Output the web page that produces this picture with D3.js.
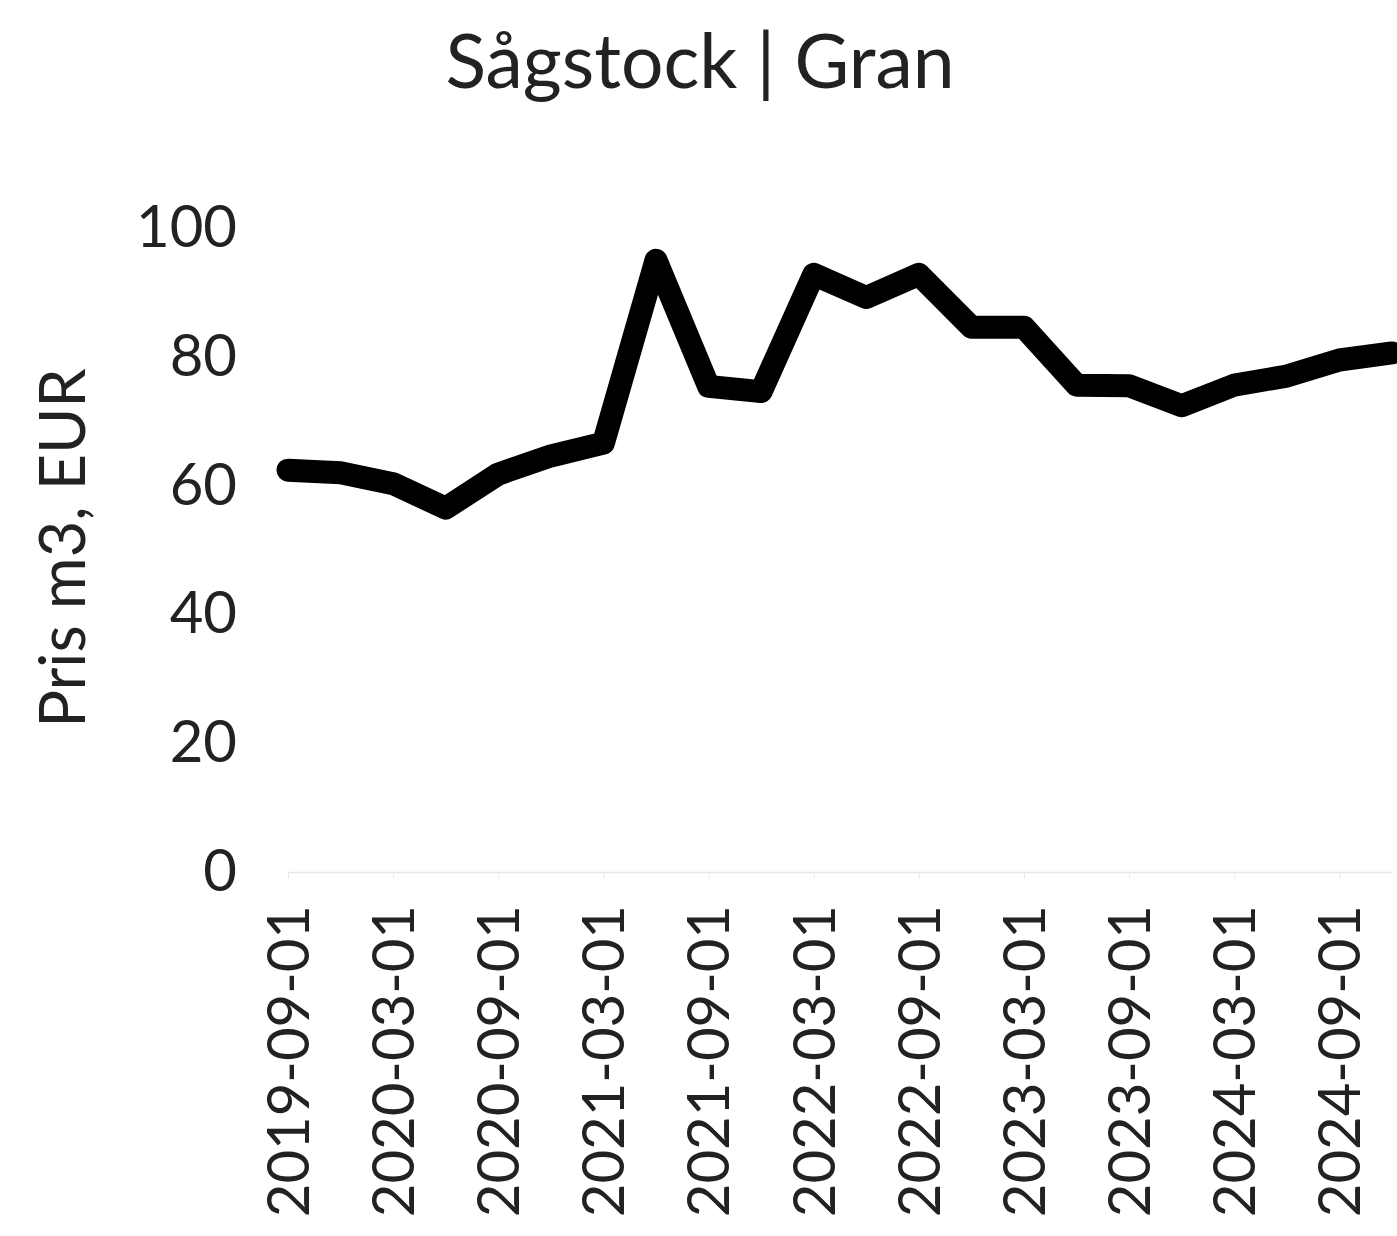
<!doctype html>
<html lang="sv">
<head>
<meta charset="utf-8">
<title>Sågstock | Gran</title>
<script src="https://cdn.jsdelivr.net/npm/d3@7"></script>
<style>
  body { margin: 0; background: #fff; }
  svg { display: block; font-family: Lato, "Open Sans", sans-serif; }
</style>
</head>
<body>
<svg id="chart" width="1397" height="1236"></svg>
<script>
// quarterly price, EUR per m3
const dates = ["2019-09-01","2019-12-01","2020-03-01","2020-06-01","2020-09-01","2020-12-01",
               "2021-03-01","2021-06-01","2021-09-01","2021-12-01","2022-03-01","2022-06-01",
               "2022-09-01","2022-12-01","2023-03-01","2023-06-01","2023-09-01","2023-12-01",
               "2024-03-01","2024-06-01","2024-09-01","2024-12-01"];
const prices = [62.4, 62.0, 60.3, 56.5, 61.8, 64.6,
                66.6, 95.0, 75.4, 74.6, 92.8, 89.2,
                92.8, 84.6, 84.6, 75.6, 75.5, 72.4,
                75.6, 77.0, 79.5, 80.6];
const yTicks = [0, 20, 40, 60, 80, 100];
const xLabels = dates.filter((d, i) => i % 2 === 0);

const title = "Sågstock | Gran";
const yTitle = "Pris m3, EUR";

const svg = d3.select("#chart");
const textColor = "#222";

const x = d3.scalePoint()
    .domain(dates)
    .range([288, 1392]);

const y = d3.scaleLinear()
    .domain([0, 100])
    .range([872, 228]);

// title
svg.append("text")
    .attr("x", 700)
    .attr("y", 88)
    .attr("text-anchor", "middle")
    .style("font-size", "75px")
    .style("fill", textColor)
    .text(title);

// y axis title
svg.append("text")
    .attr("transform", "translate(85,548) rotate(-90)")
    .attr("text-anchor", "middle")
    .style("font-size", "63px")
    .style("fill", textColor)
    .text(yTitle);

// y axis
const yAxis = svg.append("g")
    .attr("transform", "translate(240,0)")
    .call(d3.axisLeft(y).tickValues(yTicks).tickSize(0).tickPadding(3));
yAxis.select(".domain").remove();
yAxis.selectAll("text")
    .style("font-size", "58px")
    .style("font-family", "Lato, 'Open Sans', sans-serif")
    .style("fill", textColor);

// x axis
const xAxis = svg.append("g")
    .attr("transform", "translate(0," + y(0) + ")")
    .call(d3.axisBottom(x).tickValues(xLabels).tickSize(6).tickSizeOuter(0));
xAxis.select(".domain").attr("stroke", "#e8e8e8").attr("stroke-width", 1.5);
xAxis.selectAll(".tick line").attr("stroke", "#e8e8e8");
xAxis.selectAll("text")
    .attr("transform", "rotate(-90)")
    .attr("x", -33)
    .attr("y", 0)
    .attr("dy", "0.35em")
    .attr("text-anchor", "end")
    .style("font-size", "58px")
    .style("font-family", "Lato, 'Open Sans', sans-serif")
    .style("fill", textColor);

// the price line
const line = d3.line()
    .x((d, i) => x(dates[i]))
    .y(d => y(d));

svg.append("path")
    .datum(prices)
    .attr("d", line)
    .attr("fill", "none")
    .attr("stroke", "#000")
    .attr("stroke-width", 23)
    .attr("stroke-linejoin", "round")
    .attr("stroke-linecap", "round");
</script>
</body>
</html>
